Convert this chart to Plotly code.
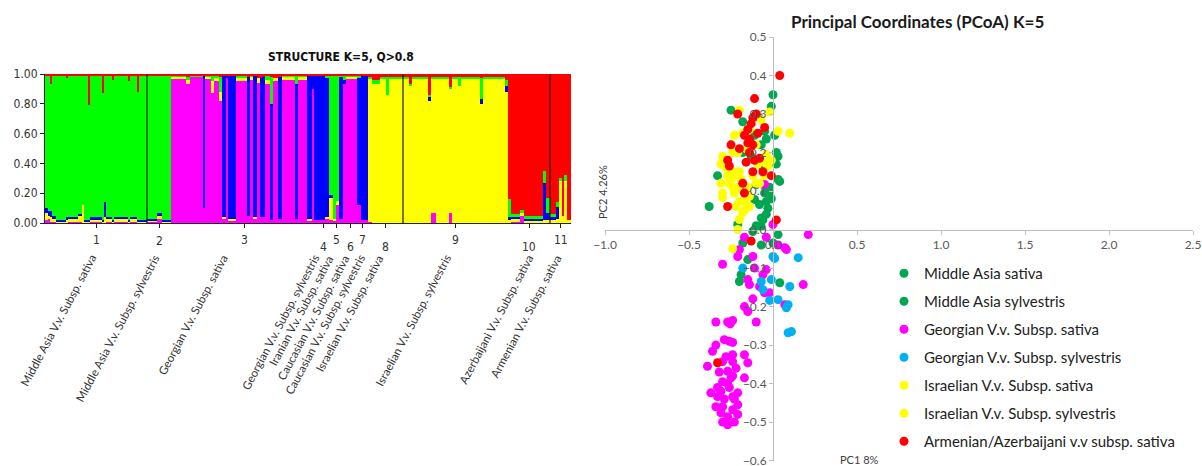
import numpy as np
import plotly.graph_objects as go

OFF = 0
W, H = 1202, 466


def px(x):
    return (x - OFF) / W


def py(y):
    return 1 - (y - OFF) / H


# ---------------- STRUCTURE (K=5) data ----------------
group_numbers = ["1", "2", "3", "4", "5", "6", "7", "8", "9", "10", "11"]
group_labels = [
    "Middle Asia V.v. Subsp. sativa",
    "Middle Asia V.v. Subsp. sylvestris",
    "Georgian V.v. Subsp. sativa",
    "Georgian V.v. Subsp. sylvestris",
    "Iranian V.v. Subsp. sativa",
    "Caucasian V.v. Subsp. sativa",
    "Caucasian V.v. Subsp. sylvestris",
    "Israelian V.v. Subsp. sativa",
    "Israelian V.v. Subsp. sylvestris",
    "Azerbaijani V.v. Subsp. sativa",
    "Armenian V.v. Subsp. sativa",
]
# group of each block of individuals
blk_group = [1]*21 + [2]*3 + [3]*27 + [4]*2 + [5]*4 + [6]*2 + [7]*2 + [8]*5 + [9]*13 + [10]*6 + [11]*6
# number of individuals in each block
blk_n = [3, 2, 2, 4, 10, 2, 10, 4, 2, 4, 2, 12, 2, 2, 6, 2, 14, 2, 7, 2, 8,
         10, 5, 9,
         15, 4, 13, 2, 6, 3, 5, 3, 4, 2, 8, 11, 3, 3, 4, 3, 5, 5, 3, 5, 4, 13, 3, 9, 5, 2, 3,
         8, 4,
         4, 3, 3, 4,
         3, 11,
         4, 7,
         4, 8, 6, 3, 14,
         6, 3, 16, 3, 5, 13, 3, 6, 3, 19, 3, 22, 3,
         3, 9, 4, 19, 3, 4,
         6, 3, 3, 2, 3, 4]
# membership coefficients (Q) per cluster, stacked bottom -> top
q_magenta = [.02, .03, .01, .01, 0, 0, .01, .01, 0, 0, 0, .01, 0, 0, .01, 0, .01, 0, .01, 0, 0,
             .01, .03, 0,
             .97, .93, .98, .10, .97, .87, .95, .82, .03, .97, .02, .95, .05, .96, .03, .94, .04, .93, .02, .95, .03, .96, .03, .96, .02, .90, .02,
             .02, .03,
             .02, .02, .12, .03,
             .93, .97,
             .12, .02,
             .01, 0, 0, 0, 0,
             0, 0, 0, 0, .07, 0, .07, 0, 0, 0, 0, 0, 0,
             0, .01, .05, 0, 0, 0,
             0, 0, 0, 0, 0, 0]
q_yellow = [.05, .02, .03, .02, .01, .02, .02, .04, .12, .01, .01, .01, .01, .04, .02, .01, .02, .01, .02, .01, .01,
            .01, .02, .01,
            .01, .03, 0, 0, .01, .08, .02, .06, .01, 0, .01, .02, 0, .02, .01, .03, 0, .03, 0, .02, 0, .02, 0, .02, .01, 0, 0,
            0, .01,
            .15, .01, .03, 0,
            0, .01,
            0, 0,
            .96, .93, .97, .86, .97,
            .97, .92, .97, .82, .90, .97, .83, .97, .92, .97, .80, .97, .88,
            .02, .02, .02, .02, .02, .02,
            .02, .03, .28, .05, .28, .02]
q_blue = [.03, .03, .04, .02, .01, .02, .01, .01, 0, .01, .01, .02, .01, .10, .01, .01, .01, .01, .01, .01, .01,
          .01, .02, .01,
          0, 0, 0, .89, 0, 0, 0, 0, .95, .02, .96, 0, .93, 0, .95, 0, .94, 0, .78, 0, .95, 0, .90, 0, .96, .09, .97,
          .97, .93,
          .02, 0, 0, .95,
          .03, 0,
          .85, .97,
          0, 0, 0, 0, 0,
          0, 0, 0, .03, 0, 0, 0, 0, 0, 0, .03, 0, .04,
          .02, .01, 0, .01, .25, .05,
          .02, .08, 0, 0, 0, 0]
q_green = [.89, .91, .85, .94, .97, .93, .95, .93, .87, .97, .77, .95, .85, .85, .95, .94, .95, .93, .95, .86, .97,
           .96, .92, .97,
           .01, .02, .01, 0, .01, .04, .02, .10, 0, 0, 0, .02, 0, .01, 0, 0, 0, .03, .18, 0, 0, .01, .06, .01, 0, 0, 0,
           0, .02,
           .80, .96, .84, .01,
           .03, .01,
           .02, 0,
           .01, .03, .01, .12, .01,
           .01, .01, .01, .01, .01, .01, .01, .01, .06, .01, .14, .01, .04,
           .12, .02, .02, .02, .08, .10,
           .02, .03, .02, 0, .04, 0]
q_red = [.01, .01, .07, .01, .01, .03, .01, .01, .01, .01, .21, .01, .13, .01, .01, .04, .01, .05, .01, .12, .01,
         .01, .01, .01,
         .01, .02, .01, .01, .01, .01, .01, .02, .01, .01, .01, .01, .02, .01, .01, .03, .02, .01, .02, .03, .02, .01, .01, .01, .01, .01, .01,
         .01, .01,
         .01, .01, .01, .01,
         .01, .01,
         .01, .01,
         .02, .04, .02, .02, .02,
         .02, .07, .02, .14, .02, .02, .09, .02, .02, .02, .03, .02, .04,
         .84, .94, .91, .95, .65, .83,
         .94, .86, .70, .95, .68, .98]
sep_after_groups = [1, 8, 10]

# ---------------- PCoA data ----------------
ma_sat_x = [0.00, -0.01, -0.25, -0.08, -0.05, -0.18, -0.11, -0.04, -0.07, 0.02, 0.03, -0.18, 0.04, 0.03, -0.02,
            -0.01, -0.33, -0.16, -0.10, -0.05, -0.04, -0.11, -0.08, -0.03, -0.02, 0.02, -0.13, -0.06, 0.01, -0.14]
ma_sat_y = [0.35, 0.32, 0.31, 0.29, 0.255, 0.28, 0.245, 0.235, 0.22, 0.20, 0.19, 0.20, 0.125, 0.13, 0.11,
            0.08, 0.14, 0.10, 0.117, 0.095, 0.073, 0.078, 0.065, 0.055, 0.095, 0.17, 0.19, 0.16, 0.245, 0.23]
ma_syl_x = [-0.38, -0.07, -0.10, -0.07, -0.06, -0.18, -0.07, 0.03, 0.00, -0.19, -0.20, -0.15, 0.04, -0.21, -0.12, -0.04]
ma_syl_y = [0.06, 0.03, 0.01, 0.008, 0.025, -0.035, -0.04, -0.013, -0.035, -0.117, -0.135, -0.078, -0.138, 0.013, -0.005, 0.04]
geo_sat_x = [-0.05, 0.21, 0.00, -0.17, -0.04, 0.03, 0.07, 0.08, -0.20, -0.12, -0.30, -0.21, -0.04, -0.06, -0.15,
             -0.14, -0.08, -0.05, -0.02, 0.18, -0.12, -0.17, -0.15, -0.10, 0.07, -0.11,
             -0.34, -0.27, -0.24, -0.255, -0.29, -0.24, -0.26, -0.34, -0.36, -0.24, -0.17, -0.39, -0.30, -0.24,
             -0.15, -0.27, -0.24, -0.17, -0.30, -0.33, -0.27, -0.37, -0.31, -0.26, -0.24, -0.21, -0.33, -0.34,
             -0.30, -0.23, -0.21, -0.31, -0.27, -0.24, -0.21, -0.27, -0.23, -0.30, -0.28, -0.22, -0.29, -0.25, -0.32]
geo_sat_y = [0.117, -0.013, 0.013, -0.02, -0.02, -0.04, -0.047, -0.052, -0.052, -0.07, -0.09, -0.07, -0.104, -0.117, -0.13,
             -0.143, -0.148, -0.164, -0.164, -0.143, -0.18, -0.20, -0.213, -0.24, -0.195, -0.10,
             -0.24, -0.24, -0.236, -0.245, -0.286, -0.293, -0.29, -0.30, -0.316, -0.325, -0.325, -0.355, -0.343, -0.343,
             -0.346, -0.368, -0.38, -0.385, -0.395, -0.41, -0.40, -0.424, -0.42, -0.41, -0.434, -0.424, -0.434, -0.46,
             -0.46, -0.44, -0.455, -0.476, -0.486, -0.468, -0.48, -0.507, -0.50, -0.50, -0.33, -0.36, -0.44, -0.385, -0.37]
geo_syl_x = [0.00, 0.15, -0.18, -0.07, -0.01, 0.10, -0.06, -0.02, 0.03, 0.08, 0.09, 0.09, 0.11, 0.01]
geo_syl_y = [-0.07, -0.073, -0.10, -0.135, -0.13, -0.148, -0.156, -0.184, -0.182, -0.203, -0.195, -0.268, -0.265, -0.075]
isr_sat_x = [-0.20, -0.02, -0.07, 0.03, 0.10, -0.23, -0.18, -0.10, -0.30, -0.24, -0.04, -0.01, -0.31, -0.21, -0.09,
             -0.03, -0.14, -0.16]
isr_sat_y = [0.31, 0.305, 0.285, 0.255, 0.25, 0.245, 0.25, 0.22, 0.19, 0.20, 0.195, 0.18, 0.17, 0.20, 0.17,
             0.165, 0.26, 0.21]
isr_syl_x = [-0.31, -0.30, -0.30, -0.24, -0.24, -0.21, -0.23, -0.20, -0.17, -0.14, -0.18, -0.20, -0.21, -0.24, -0.10,
             -0.16, -0.04, -0.20, -0.26, -0.24, -0.08, -0.14, -0.17, -0.27, -0.28, -0.19, -0.12, -0.22, -0.15, -0.05]
isr_syl_y = [0.12, 0.095, 0.083, 0.15, 0.135, 0.11, 0.095, 0.073, 0.073, 0.06, 0.044, 0.026, 0.0, -0.05, 0.12,
             0.09, 0.17, 0.15, 0.12, 0.11, 0.12, 0.086, 0.05, 0.14, 0.16, 0.13, 0.14, 0.06, 0.11, 0.14]
arm_x = [0.04, -0.11, -0.21, -0.12, -0.13, -0.15, -0.17, -0.05, -0.15, -0.12, -0.25, -0.27, -0.26, -0.16, -0.11,
         -0.08, -0.12, -0.01, -0.18, -0.17, -0.27, 0.02, -0.13, -0.33, -0.20, -0.09, -0.14, -0.06, -0.10, -0.14]
arm_y = [0.40, 0.34, 0.30, 0.29, 0.275, 0.26, 0.245, 0.265, 0.225, 0.22, 0.22, 0.18, 0.165, 0.175, 0.18,
         0.185, 0.15, 0.14, 0.12, 0.095, 0.06, 0.025, -0.03, -0.346, 0.21, 0.25, 0.20, 0.15, 0.30, 0.235]

pcoa_series = [
    ("Middle Asia sativa", ma_sat_x, ma_sat_y, "#00A651"),
    ("Middle Asia sylvestris", ma_syl_x, ma_syl_y, "#00A651"),
    ("Georgian V.v. Subsp. sativa", geo_sat_x, geo_sat_y, "#FF00FF"),
    ("Georgian V.v. Subsp. sylvestris", geo_syl_x, geo_syl_y, "#00B0F0"),
    ("Israelian V.v. Subsp. sativa", isr_sat_x, isr_sat_y, "#FFFF00"),
    ("Israelian V.v. Subsp. sylvestris", isr_syl_x, isr_syl_y, "#FFFF00"),
    ("Armenian/Azerbaijani v.v subsp. sativa", arm_x, arm_y, "#FF0000"),
]

# ---------------- figure ----------------
NARROW = "Liberation Sans Narrow, Arial Narrow, DejaVu Sans Condensed, sans-serif"
fig = go.Figure()

n_arr = np.array(blk_n, dtype=float)
starts = np.concatenate([[0.0], np.cumsum(n_arr)[:-1]])
centers = starts + n_arr / 2
ends = starts + n_arr
total = float(n_arr.sum())
grp = np.array(blk_group)

clusters = [("magenta", q_magenta, "#FF00FF"), ("yellow", q_yellow, "#FFFF00"),
            ("blue", q_blue, "#0000FF"), ("green", q_green, "#00FF00"), ("red", q_red, "#FF0000")]
for name, q, col in clusters:
    fig.add_trace(go.Bar(x=centers, y=q, width=n_arr, marker=dict(color=col, line=dict(width=0)),
                         xaxis="x", yaxis="y", showlegend=False, name=name, hoverinfo="skip"))

g_centers = []
for g in range(1, len(group_numbers) + 1):
    m = grp == g
    g_centers.append((starts[m].min() + ends[m].max()) / 2)

for g in sep_after_groups:
    xb = ends[grp == g].max()
    fig.add_shape(type="line", xref="x", yref="y", x0=xb, x1=xb, y0=0, y1=1,
                  line=dict(color="#1a1a1a", width=1.2))

for name, xs, ys, col in pcoa_series:
    fig.add_trace(go.Scatter(x=xs, y=ys, mode="markers", name=name, legendgroup=name,
                             marker=dict(color=col, size=9, line=dict(width=0)),
                             xaxis="x2", yaxis="y2"))

dom_x1 = [px(45), px(571)]
dom_y1 = [py(223), py(74)]
dom_x2 = [px(605), px(1193)]
dom_y2 = [py(461), py(37)]
xr2 = [-1.0, 2.5]
yr2 = [-0.601, 0.5]
pos_xaxis2 = dom_y2[0] + (0 - yr2[0]) / (yr2[1] - yr2[0]) * (dom_y2[1] - dom_y2[0])
pos_yaxis2 = dom_x2[0] + (0 - xr2[0]) / (xr2[1] - xr2[0]) * (dom_x2[1] - dom_x2[0])

annotations = []
# number labels under ticks (alternating heights as in the original)
num_top_px = [231, 232, 231, 238, 231, 238, 231, 238, 231, 238, 231]
for i, g in enumerate(group_numbers):
    annotations.append(dict(x=g_centers[i], y=py(num_top_px[i]), xref="x", yref="paper",
                            text=g, showarrow=False, xanchor="center", yanchor="top",
                            font=dict(family=NARROW, size=12, color="#333333")))
# rotated population labels
label_end_px = [101, 164, 233, 324, 338, 354, 370, 388, 456, 538, 566]
for i, lab in enumerate(group_labels):
    annotations.append(dict(x=px(label_end_px[i]), y=py(250), xref="paper", yref="paper",
                            text=lab, showarrow=False, xanchor="right", yanchor="top", textangle=-62,
                            font=dict(family="Lato, sans-serif", size=11.5, color="#333333")))
annotations.append(dict(x=px(341), y=py(57), xref="paper", yref="paper", text="<b>STRUCTURE K=5, Q>0.8</b>",
                        showarrow=False, xanchor="center", yanchor="middle",
                        font=dict(family=NARROW, size=12, color="#111111")))
annotations.append(dict(x=px(917), y=py(22), xref="paper", yref="paper",
                        text="<b>Principal Coordinates (PCoA) K=5</b>", showarrow=False,
                        xanchor="center", yanchor="middle",
                        font=dict(family="Lato, sans-serif", size=17, color="#1a1a1a")))
annotations.append(dict(x=px(602), y=py(192), xref="paper", yref="paper", text="PC2 4.26%",
                        showarrow=False, textangle=-90, xanchor="center", yanchor="middle",
                        font=dict(family="Lato, sans-serif", size=11, color="#404040")))
annotations.append(dict(x=px(859), y=py(459), xref="paper", yref="paper", text="PC1 8%",
                        showarrow=False, xanchor="center", yanchor="middle",
                        font=dict(family="Lato, sans-serif", size=11, color="#404040")))

fig.update_layout(
    width=W, height=H, margin=dict(l=0, r=0, t=0, b=0, autoexpand=False),
    paper_bgcolor="white", plot_bgcolor="rgba(0,0,0,0)",
    barmode="stack", bargap=0,
    font=dict(family="Lato, sans-serif"),
    xaxis=dict(domain=dom_x1, range=[0, total], anchor="y", showgrid=False, zeroline=False,
               showline=True, linecolor="#222222", linewidth=1, ticks="outside", ticklen=4,
               tickcolor="#222222", tickvals=g_centers, showticklabels=False, fixedrange=True,
               automargin=False),
    yaxis=dict(domain=dom_y1, range=[0, 1.0], anchor="x", showgrid=False, zeroline=False,
               showline=True, linecolor="#222222", linewidth=1, ticks="outside", ticklen=4,
               tickcolor="#222222", tickvals=[0, 0.2, 0.4, 0.6, 0.8, 1.0], tickformat=".2f",
               tickfont=dict(family=NARROW, size=12, color="#333333"), automargin=False),
    xaxis2=dict(domain=dom_x2, range=xr2, anchor="free", position=pos_xaxis2, showgrid=False,
                zeroline=False, showline=True, linecolor="#BFBFBF", linewidth=1, ticks="outside",
                ticklen=4, tickcolor="#BFBFBF", dtick=0.5, tick0=0, tickformat=".1f",
                tickfont=dict(family="Lato, sans-serif", size=12, color="#595959"), automargin=False,
                ticklabeloverflow="allow"),
    yaxis2=dict(domain=dom_y2, range=yr2, anchor="free", position=pos_yaxis2, showgrid=False,
                zeroline=False, showline=True, linecolor="#BFBFBF", linewidth=1, ticks="outside",
                ticklen=4, tickcolor="#BFBFBF", dtick=0.1, tick0=0, tickformat=".1f",
                tickfont=dict(family="Lato, sans-serif", size=12, color="#595959"), automargin=False,
                ticklabeloverflow="allow"),
    legend=dict(x=px(884), y=py(257), xanchor="left", yanchor="top", bgcolor="rgba(0,0,0,0)",
                font=dict(family="Lato, sans-serif", size=15, color="#222222"), tracegroupgap=5.5,
                itemwidth=30),
    annotations=annotations,
)

fig.write_html("out.html", config={"displayModeBar": False},
               post_script="document.body.style.margin='0';document.body.style.overflow='hidden';")
